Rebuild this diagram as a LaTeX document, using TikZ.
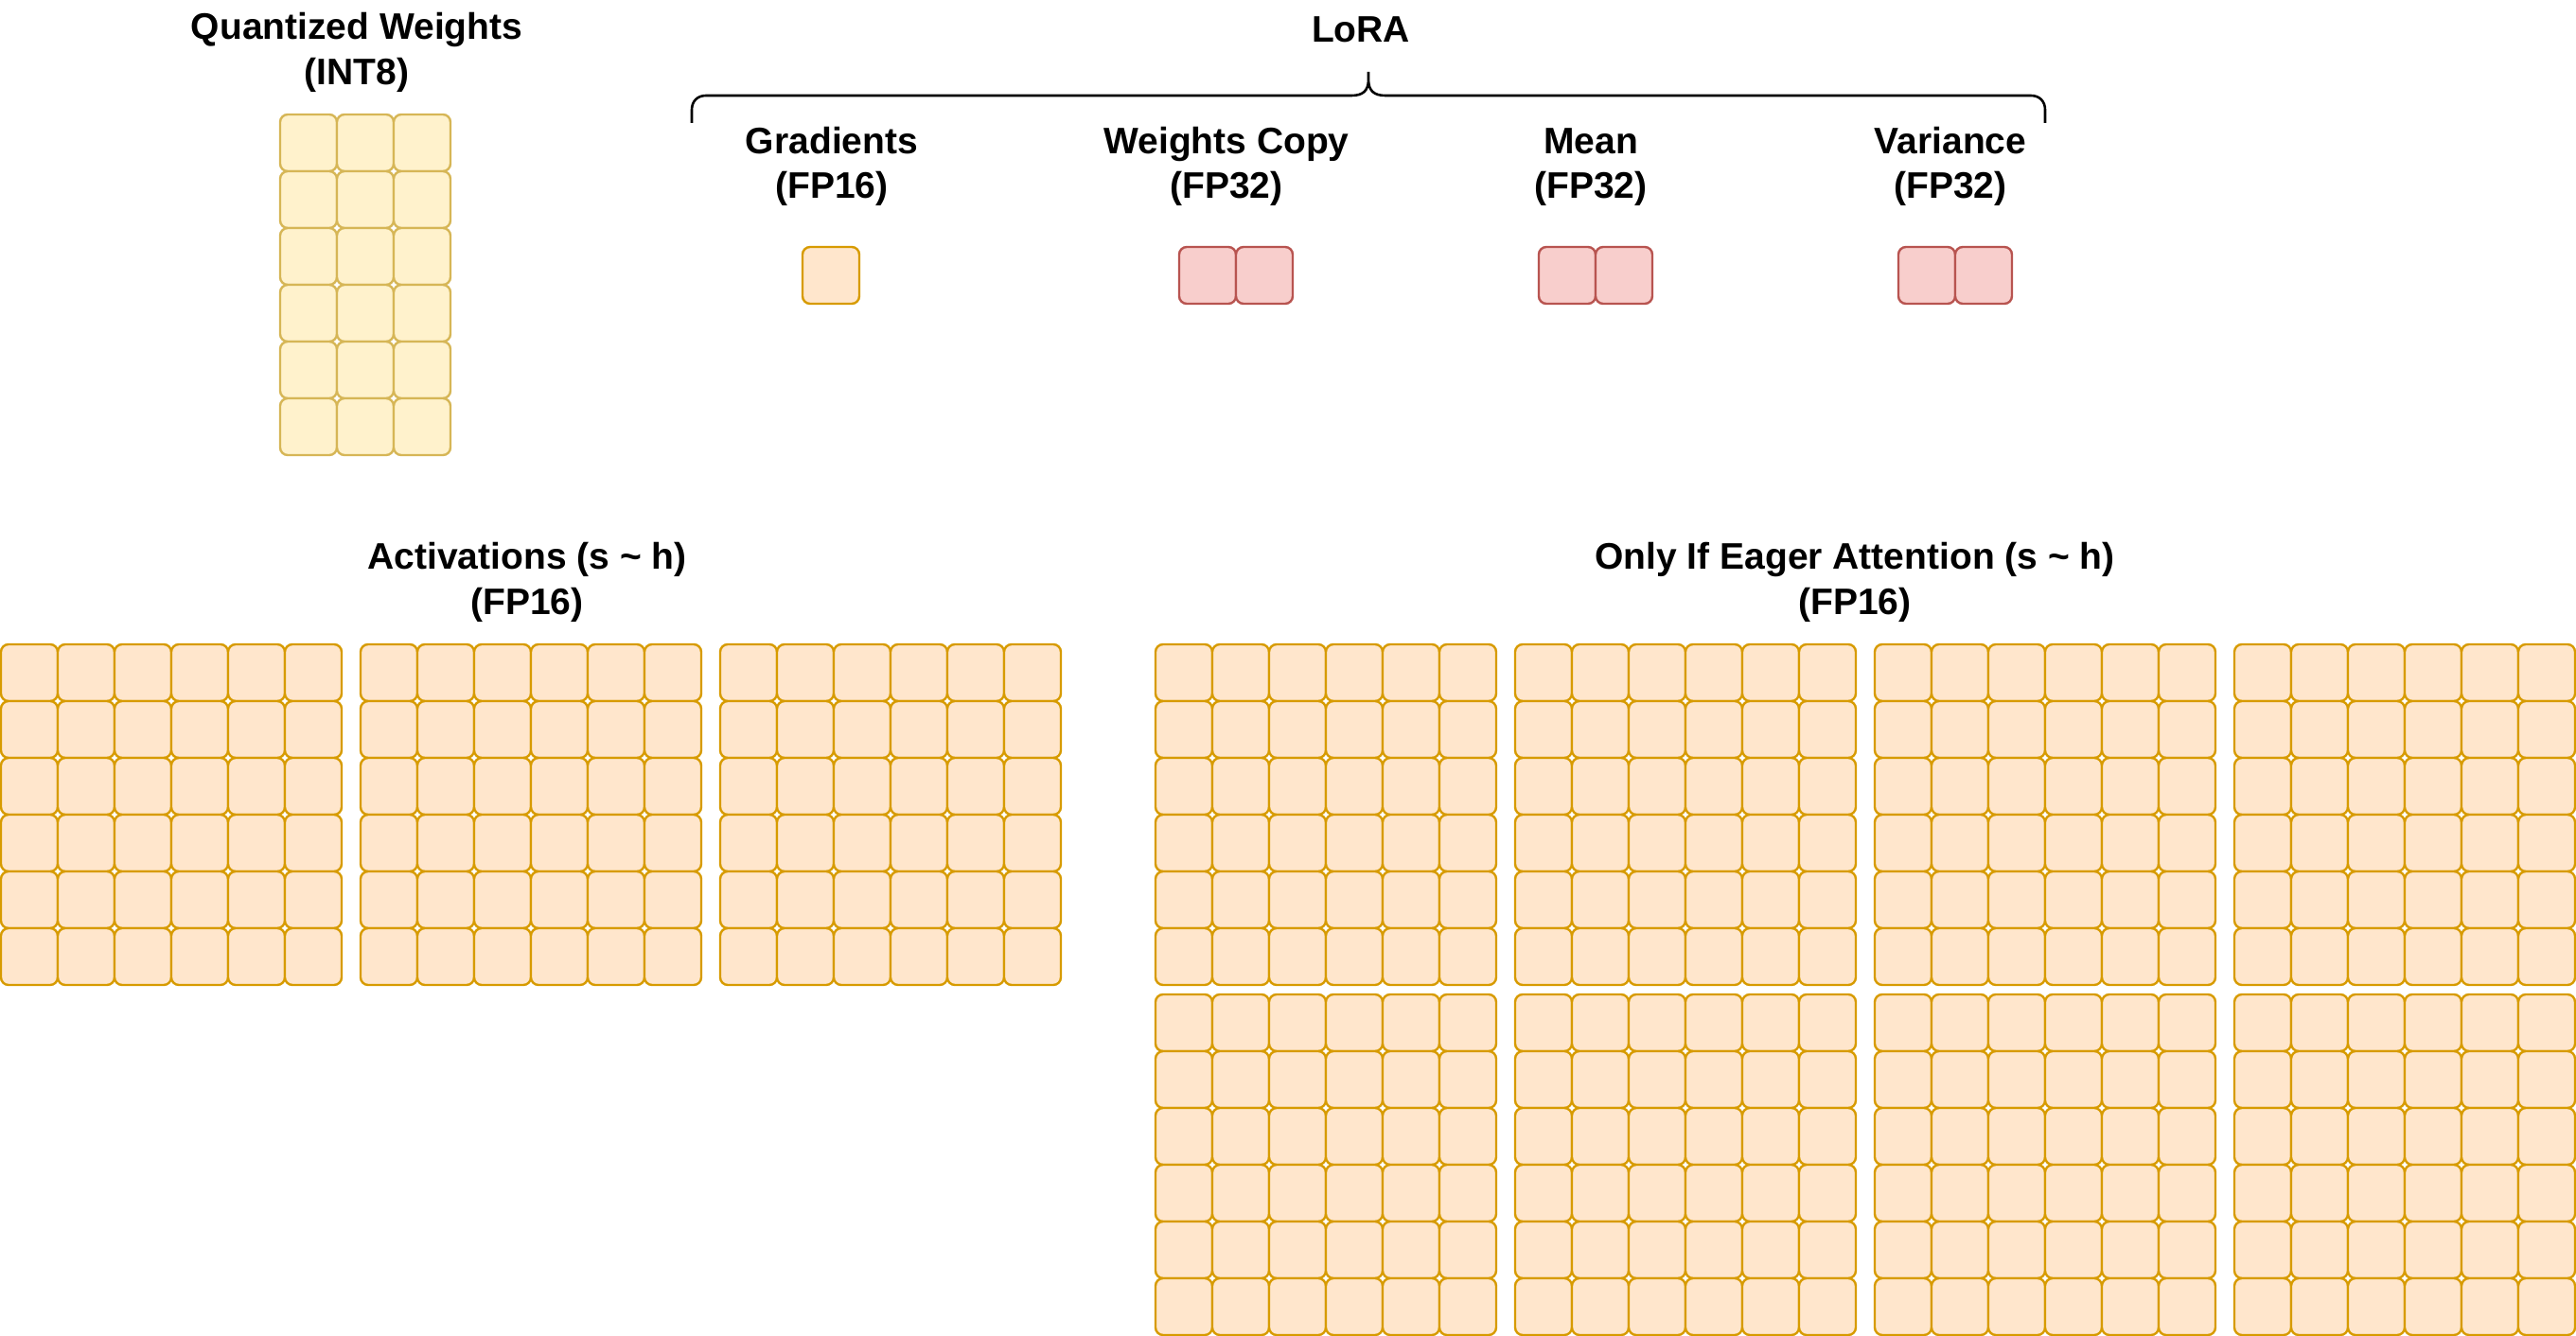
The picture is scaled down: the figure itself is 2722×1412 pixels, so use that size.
\documentclass[tikz,border=0pt]{standalone}
\usepackage{fontspec}
\setmainfont{Liberation Sans}
\usepackage{tikz}
\definecolor{actfill}{HTML}{FFE6CC}
\definecolor{actdraw}{HTML}{D79B00}
\definecolor{intfill}{HTML}{FFF2CC}
\definecolor{intdraw}{HTML}{D6B656}
\definecolor{optfill}{HTML}{F8CECC}
\definecolor{optdraw}{HTML}{B85450}
\tikzset{
  cell/.style={line width=0.6pt, rounded corners=2pt},
  actcell/.style={cell, draw=actdraw, fill=actfill},
  intcell/.style={cell, draw=intdraw, fill=intfill},
  optcell/.style={cell, draw=optdraw, fill=optfill},
  headnode/.style={font=\bfseries\fontsize{9.75}{12}\selectfont, align=center, anchor=base, inner sep=0pt},
  braceline/.style={black, line width=0.65pt}
}

\begin{document}
\begin{tikzpicture}[x=0.25pt, y=-0.25pt]
  \useasboundingbox (0,0) rectangle (2722,1412);
  % quantized weights
  \node[headnode] (qwtitle) at (377,90) {Quantized Weights\\(INT8)};
  \foreach \row in {0,...,5}{
    \foreach \col in {0,1,2}{
      \draw[intcell] ({296+60*\col},{121+60*\row}) rectangle ++(60,60);
    }
  }
  % lora states
  \node[headnode] (loratitle) at (1438,45) {LoRA};
  \draw[braceline] (731,130) -- (731,116) .. controls (731,107) and (737,101) .. (746,101)
    -- (1428,101) .. controls (1440,101) and (1446,96) .. (1446,84) -- (1446,76)
    -- (1446,84) .. controls (1446,96) and (1452,101) .. (1464,101)
    -- (2146,101) .. controls (2155,101) and (2161,107) .. (2161,116) -- (2161,130);
  \node[headnode] (gradtitle) at (879,210) {Gradients\\(FP16)};
  \node[headnode] (copytitle) at (1296,210) {Weights Copy\\(FP32)};
  \node[headnode] (meantitle) at (1681,210) {Mean\\(FP32)};
  \node[headnode] (vartitle) at (2061,210) {Variance\\(FP32)};
  \draw[actcell] (848,261) rectangle ++(60,60);
  \foreach \xx in {1246,1626,2006}{
    \foreach \col in {0,1}{
      \draw[optcell] ({\xx+60*\col},261) rectangle ++(60,60);
    }
  }
  % activations
  \node[headnode] (acttitle) at (557,649) {Activations (s \textasciitilde{} h)\\(FP16)};
  \foreach \blk in {0,1,2}{
    \foreach \row in {0,...,5}{
      \foreach \col in {0,...,5}{
        \draw[actcell] ({1+380*\blk+60*\col},{681+60*\row}) rectangle ++(60,60);
      }
    }
  }
  % eager attention
  \node[headnode] (eagertitle) at (1960,649) {Only If Eager Attention (s \textasciitilde{} h)\\(FP16)};
  \foreach \half in {0,1}{
    \foreach \blk in {0,...,3}{
      \foreach \row in {0,...,5}{
        \foreach \col in {0,...,5}{
          \draw[actcell] ({1221+380*\blk+60*\col},{681+370*\half+60*\row}) rectangle ++(60,60);
        }
      }
    }
  }
\end{tikzpicture}
\end{document}
